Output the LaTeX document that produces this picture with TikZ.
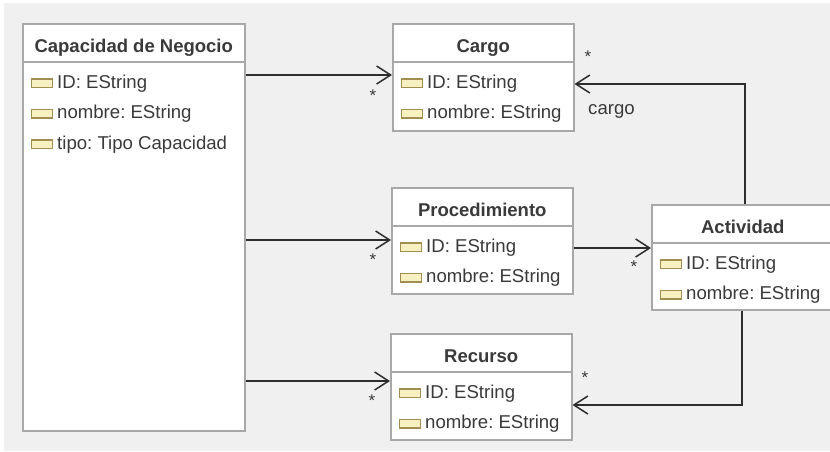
\documentclass[tikz,border=0pt]{standalone}
\usepackage{fontspec}
\setmainfont{Liberation Sans}
\usetikzlibrary{arrows.meta}
\frenchspacing

\definecolor{bggray}{HTML}{F0F0F0}
\definecolor{boxgray}{HTML}{A8A8A8}
\definecolor{txt}{HTML}{3A3A3A}
\definecolor{linecol}{HTML}{2E2E2E}
\definecolor{iconfill}{HTML}{F7F0C0}
\definecolor{iconedge}{HTML}{A08F50}

\newcommand\attrfont{\fontsize{18.6pt}{22pt}\selectfont}
\newcommand\titlefont{\bfseries\fontsize{18.5pt}{22pt}\selectfont}
\newcommand\multfont{\fontsize{17pt}{20pt}\selectfont}

% class box: name, top-left corner, width, height, title
\newcommand\classbox[5]{%
  \node[clsbox, minimum width=#3pt, minimum height=#4pt] (#1) at #2 {};
  \draw[sepline] ([yshift=-39pt]#1.north west) -- ([yshift=-39pt]#1.north east);
  \node[clstitle] (#1-title) at ([yshift=-29pt]#1.north) {#5};
}
% attribute row: class name, row tag, baseline offset from top, text
\newcommand\attrrow[4]{%
  \node[attricon] (#1-icon#2) at ([xshift=9pt,yshift=-#3pt]#1.north west) {};
  \node[attrtext] (#1-attr#2) at ([xshift=35pt,yshift=-#3pt]#1.north west) {#4};
}

\begin{document}
\begin{tikzpicture}[x=1pt,y=-1pt,
  clsbox/.style={draw=boxgray, line width=1.5pt, fill=white, inner sep=0pt, anchor=north west},
  sepline/.style={draw=boxgray, line width=1.5pt},
  clstitle/.style={font=\titlefont, text=txt, anchor=base, inner sep=0pt},
  attrtext/.style={font=\attrfont, text=txt, anchor=base west, inner sep=0pt},
  attricon/.style={draw=iconedge, fill=iconfill, line width=1.3pt, minimum width=21pt,
                   minimum height=8.5pt, inner sep=0pt, anchor=south west},
  assoc/.style={draw=linecol, line width=1.5pt,
                -{Straight Barb[length=14pt,width=18pt,line width=1.5pt]}},
  mult/.style={font=\multfont, text=txt, inner sep=0pt},
  rolelabel/.style={font=\attrfont, text=txt, inner sep=0pt, anchor=base west}]

  \useasboundingbox (0,0) rectangle (830,451);
  \fill[white] (0,0) rectangle (830,451);
  \fill[bggray] (4,3) rectangle (830,451);

  % classes
  \classbox{cap}{(22,23)}{222}{407}{Capacidad de Negocio}
  \attrrow{cap}{1}{65}{ID: EString}
  \attrrow{cap}{2}{95.5}{nombre: EString}
  \attrrow{cap}{3}{126}{tipo: Tipo Capacidad}

  \classbox{cargo}{(392,23)}{181}{107}{Cargo}
  \attrrow{cargo}{1}{65}{ID: EString}
  \attrrow{cargo}{2}{95.5}{nombre: EString}

  \classbox{proc}{(391,187)}{181}{106}{Procedimiento}
  \attrrow{proc}{1}{65}{ID: EString}
  \attrrow{proc}{2}{95.5}{nombre: EString}

  \classbox{rec}{(390,333)}{181}{106}{Recurso}
  \attrrow{rec}{1}{65}{ID: EString}
  \attrrow{rec}{2}{95.5}{nombre: EString}

  \classbox{act}{(651,204)}{182}{105}{Actividad}
  \attrrow{act}{1}{65}{ID: EString}
  \attrrow{act}{2}{95.5}{nombre: EString}

  % associations
  \draw[assoc] ([yshift=-52pt]cap.north east) -- ([yshift=-52pt]cargo.north west);
  \draw[assoc] ([yshift=-217pt]cap.north east) -- ([yshift=-53pt]proc.north west);
  \draw[assoc] ([yshift=-358pt]cap.north east) -- ([yshift=-48pt]rec.north west);
  \draw[assoc] ([yshift=-61pt]proc.north east) -- ([yshift=-44pt]act.north west);
  \draw[assoc] ([xshift=94pt]act.north west) |- ([yshift=-61pt]cargo.north east);
  \draw[assoc] ([xshift=91pt]act.south west) |- ([yshift=-72pt]rec.north east);

  % multiplicities and role name
  \node[mult] (m1) at (373,96) {*};
  \node[mult] (m2) at (373,260) {*};
  \node[mult] (m3) at (372,401) {*};
  \node[mult] (m4) at (634,267) {*};
  \node[mult] (m5) at (588,57) {*};
  \node[mult] (m6) at (585,378) {*};
  \node[rolelabel] (role) at (588,114) {cargo};
\end{tikzpicture}
\end{document}
